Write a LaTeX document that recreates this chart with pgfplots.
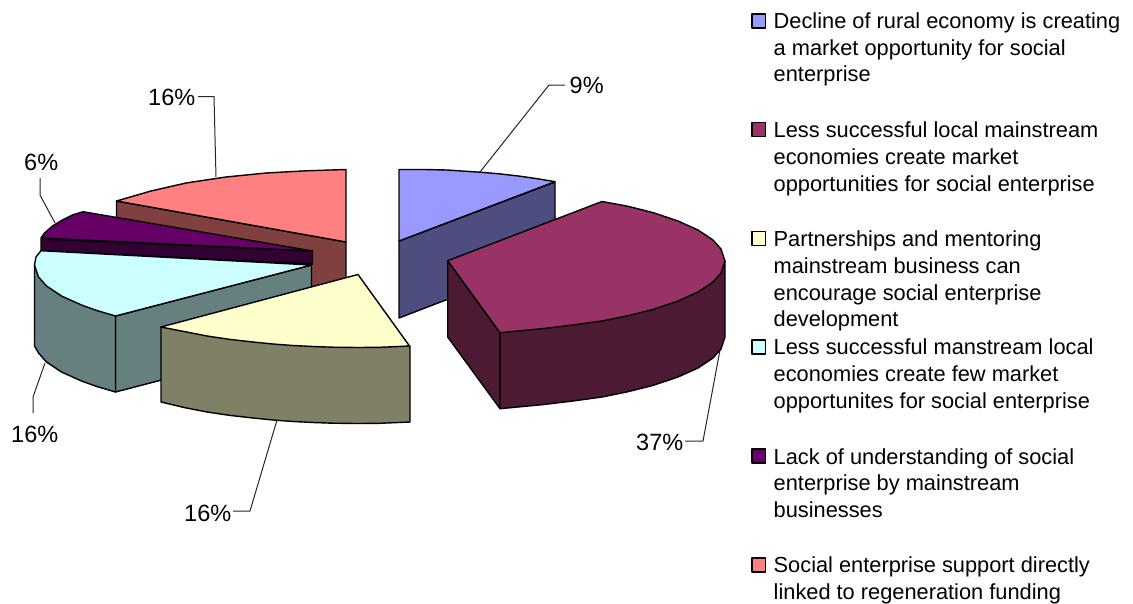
\documentclass[border=0pt]{standalone}
\usepackage{pgfplots}
\pgfplotsset{compat=1.18}
\usepackage{fontspec}
\setmainfont{Liberation Sans}
\definecolor{bluetop}{HTML}{9999FF}\definecolor{blueside}{HTML}{4D4D80}
\definecolor{redtop}{HTML}{993366}\definecolor{redside}{HTML}{4D1A33}
\definecolor{yeltop}{HTML}{FFFFCC}\definecolor{yelside}{HTML}{808066}
\definecolor{cyatop}{HTML}{CCFFFF}\definecolor{cyaside}{HTML}{668080}
\definecolor{purtop}{HTML}{660066}\definecolor{purside}{HTML}{330033}
\definecolor{pintop}{HTML}{FF8080}\definecolor{pinside}{HTML}{804040}
\newcommand{\lbl}[3]{\node[anchor=base west,inner sep=0pt,font=\fontsize{23.5}{27}\selectfont] at (axis cs:#1,#2) {#3};}
\newcommand{\leg}[3]{\node[anchor=base west,inner sep=0pt,font=\fontsize{21.8}{27}\selectfont] at (axis cs:#1,#2) {#3};}
\begin{document}
\begin{tikzpicture}
\useasboundingbox (0,0) rectangle (1133pt,603pt);
\begin{axis}[scale only axis,width=1133pt,height=603pt,xmin=0,xmax=1133,ymin=0,ymax=603,y dir=reverse,
 axis lines=none,clip=false,anchor=south west,at={(0,0)},
 every axis plot/.append style={line width=1.4pt,draw=black,line join=round,mark=none}]
% blue
\addplot[fill=blueside] coordinates {(399,241)(555,182)(555,258)(399,318)} -- cycle;
\addplot[fill=bluetop] coordinates {(399,241)(399,169.5)(424,169.5)(447,170)(480,172.2)(499,173.8)(520,176.2)(539,179)(555,181.7)} -- cycle;
% red
\addplot[fill=redside] coordinates {(447.7,260.7)(500,332.7)(500,408.7)(447.7,337)} -- cycle;
\addplot[fill=redside] coordinates {(725,261)(725,337)(721,349)(713,358)(698,368)(678,377)(653,385.4)(628,391.7)(602,397)(573,401)(543,404.6)(500,408.7)(500,332.7)} -- cycle;
\addplot[fill=redtop] coordinates {(447.7,260.7)(602,201.5)(628,206.3)(653,212.6)(678,221)(698,230)(713,240)(721,249)(725,261)(721,273)(713,282)(698,292)(678,301)(653,309.4)(628,315.7)(602,321)(573,325)(543,328.6)(500,332.7)} -- cycle;
% pink
\addplot[fill=pinside] coordinates {(116.5,201)(346,242)(346,318)(116.5,277)} -- cycle;
\addplot[fill=pintop] coordinates {(346,242)(346,169.5)(306,170.8)(266,173)(226,177)(186,183)(151,191)(116.5,201)} -- cycle;
% purple
\addplot[fill=purside] coordinates {(41,239)(312.5,251)(312.5,264)(41,251)} -- cycle;
\addplot[fill=purtop] coordinates {(312.5,251)(83,211.7)(72.5,215)(62.5,220)(52.5,226)(44.5,233)(41,238)} -- cycle;
% cyan
\addplot[fill=cyaside] coordinates {(115.5,316)(311.5,265)(311.5,341)(115.5,392)} -- cycle;
\addplot[fill=cyaside] coordinates {(34.5,265)(34.5,346)(38.5,353)(46.5,362)(61.5,372)(81.5,381)(96.5,386.4)(115.5,392)(115.5,316)} -- cycle;
\addplot[fill=cyatop] coordinates {(311.5,265)(41,250.7)(36,257)(34.5,265)(38.5,277)(46.5,286)(61.5,296)(81.5,305)(96.5,310.4)(115.5,316)} -- cycle;
% yellow
\addplot[fill=yelside] coordinates {(161,327)(161,402)(185,407.7)(207,412)(230,415.4)(253,418)(273,420)(293,421.5)(313,422.5)(333,423.2)(358,423.5)(380,423.3)(410,422)(410,346)} -- cycle;
\addplot[fill=yeltop] coordinates {(358,274.5)(161,327)(185,331.7)(207,336)(230,339.4)(253,342)(273,344)(293,345.5)(313,346.5)(333,347.2)(358,347.5)(380,347.3)(409.5,346)} -- cycle;
% leaders
\addplot[line width=1pt,draw=black!85] coordinates {(198,96.7)(214,96.7)(216,177)};
\addplot[line width=1pt,draw=black!85] coordinates {(40,178)(40,195)(55,223)};
\addplot[line width=1pt,draw=black!85] coordinates {(565,85)(549,85)(480,172)};
\addplot[line width=1pt,draw=black!85] coordinates {(685,441)(703,441)(720,350)};
\addplot[line width=1pt,draw=black!85] coordinates {(45,363)(33,397)(33,413)};
\addplot[line width=1pt,draw=black!85] coordinates {(233,511)(250,511)(277,420)};
% legend swatches
\addplot[fill=bluetop] coordinates {(752,14)(765.5,14)(765.5,28)(752,28)} -- cycle;
\addplot[fill=redtop] coordinates {(752,122.5)(765.5,122.5)(765.5,136.5)(752,136.5)} -- cycle;
\addplot[fill=yeltop] coordinates {(752,231.5)(765.5,231.5)(765.5,245.5)(752,245.5)} -- cycle;
\addplot[fill=cyatop] coordinates {(752,340)(765.5,340)(765.5,354)(752,354)} -- cycle;
\addplot[fill=purtop] coordinates {(752,449)(765.5,449)(765.5,463)(752,463)} -- cycle;
\addplot[fill=pintop] coordinates {(752,558)(765.5,558)(765.5,572)(752,572)} -- cycle;
% data labels
\lbl{148}{105}{16\%}
\lbl{24}{170}{6\%}
\lbl{569.5}{93}{9\%}
\lbl{636}{450}{37\%}
\lbl{11}{442}{16\%}
\lbl{184}{521}{16\%}
% legend text
\leg{773.5}{28.3}{Decline of rural economy is creating}
\leg{773.5}{55.3}{a market opportunity for social}
\leg{773.5}{81.3}{enterprise}
\leg{773.5}{137.3}{Less successful local mainstream}
\leg{773.5}{164.3}{economies create market}
\leg{773.5}{191.3}{opportunities for social enterprise}
\leg{773.5}{246.3}{Partnerships and mentoring}
\leg{773.5}{273.3}{mainstream business can}
\leg{773.5}{300.3}{encourage social enterprise}
\leg{773.5}{326.3}{development}
\leg{773.5}{354.3}{Less successful manstream local}
\leg{773.5}{381.3}{economies create few market}
\leg{773.5}{408.3}{opportunites for social enterprise}
\leg{773.5}{464.3}{Lack of understanding of social}
\leg{773.5}{490.3}{enterprise by mainstream}
\leg{773.5}{517.3}{businesses}
\leg{773.5}{572.3}{Social enterprise support directly}
\leg{773.5}{599.3}{linked to regeneration funding}
\end{axis}
\end{tikzpicture}
\end{document}
